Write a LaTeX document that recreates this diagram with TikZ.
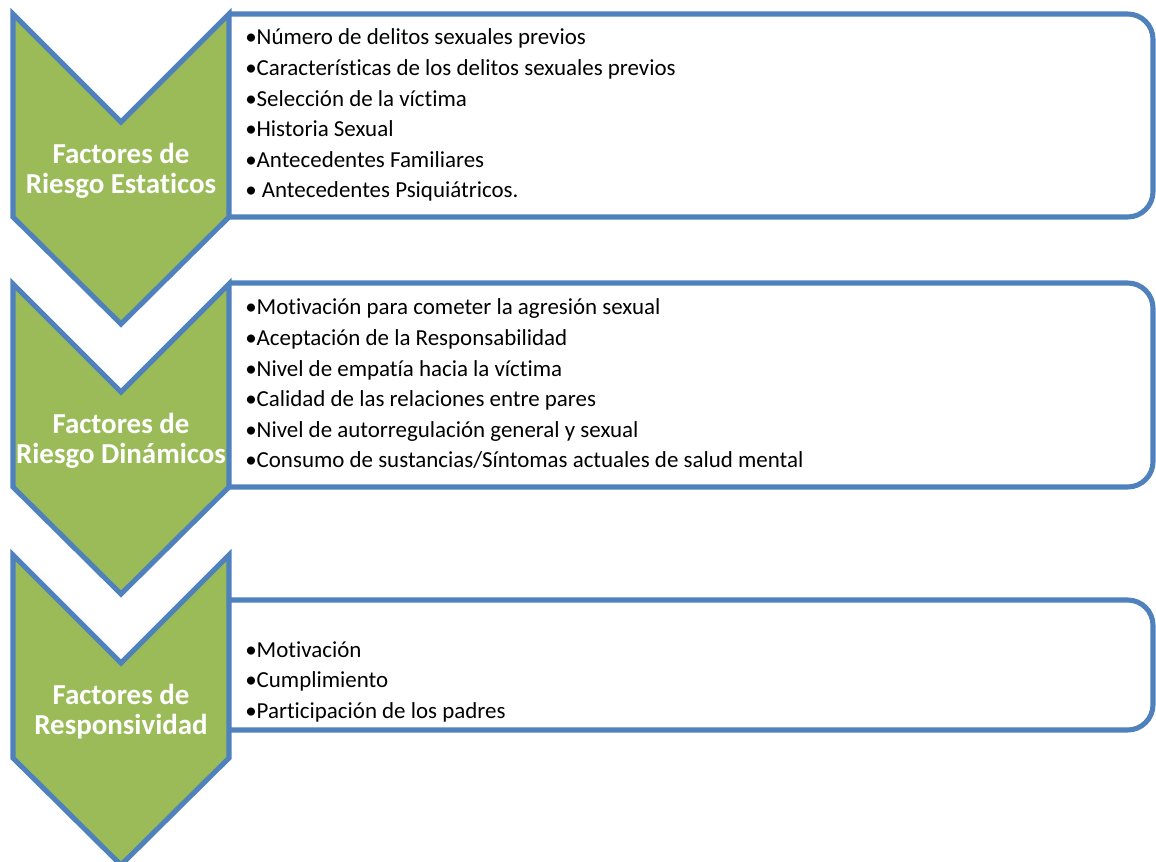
\documentclass[tikz,border=0pt]{standalone}
\usepackage{fontspec}
\setmainfont{Carlito}[Ligatures=CommonOff]
\usepackage{xcolor}
\usepackage{tikz}
\usetikzlibrary{positioning}

\definecolor{chevgreen}{RGB}{155,187,89}
\definecolor{chevblue}{RGB}{79,129,189}

\tikzset{
  chevron/.style={fill=chevgreen, draw=chevblue, line width=3.8pt, line join=miter},
  listbox/.style={fill=white, draw=chevblue, line width=3.8pt, rounded corners=19pt},
  steplabel/.style={text=white, align=center, inner sep=0pt, font=\fontsize{21.7}{22.5}\selectfont\bfseries},
  itemline/.style={anchor=base west, inner sep=0pt, font=\fontsize{17.2}{23}\selectfont}
}

\begin{document}
\begin{tikzpicture}[x=0.75pt, y=-0.75pt]
\useasboundingbox (0,0) rectangle (1156,862);

% boxes on the right
\draw[listbox] (229,217) -- (1153,217) -- (1153,14) -- (229,14);
\draw[listbox] (229,487) -- (1153,487) -- (1153,283) -- (229,283);
\draw[listbox] (229,730) -- (1153,730) -- (1153,600) -- (229,600);

% chevrons
\foreach \ytop/\nm/\lbl in {14/est/{Factores de\\Riesgo Estaticos},
                            284/din/{Factores de\\Riesgo Dinámicos},
                            555/resp/{Factores de\\Responsividad}} {
  \draw[chevron] (13,\ytop) -- ++(108,108) -- ++(108,-108) -- ++(0,203)
                 -- ++(-108,107) -- ++(-108,-107) -- cycle;
  \node[steplabel] (\nm) at (121,\ytop+157) {\lbl};
}

% items
\foreach \txt [count=\i from 0] in {•Número de delitos sexuales previos,
    •Características de los delitos sexuales previos,
    •Selección de la víctima,
    •Historia Sexual,
    •Antecedentes Familiares,
    • Antecedentes Psiquiátricos.}
  \node[itemline] (esti\i) at (245,45+30.6*\i) {\txt};

\foreach \txt [count=\i from 0] in {•Motivación para cometer la agresión sexual,
    •Aceptación de la Responsabilidad,
    •Nivel de empatía hacia la víctima,
    •Calidad de las relaciones entre pares,
    •Nivel de autorregulación general y sexual,
    •Consumo de sustancias/Síntomas actuales de salud mental}
  \node[itemline] (dini\i) at (245,315+30.6*\i) {\txt};

\foreach \txt [count=\i from 0] in {•Motivación,
    •Cumplimiento,
    •Participación de los padres}
  \node[itemline] (respi\i) at (245,657+30.6*\i) {\txt};

\end{tikzpicture}
\end{document}
